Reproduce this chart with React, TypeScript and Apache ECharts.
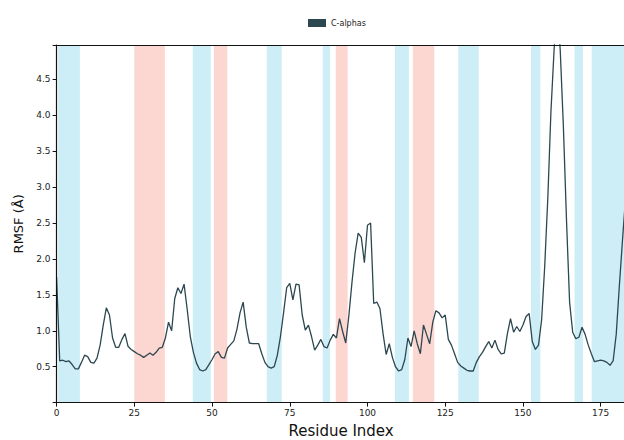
import { useEffect, useRef } from "react";
import * as echarts from "echarts";

// RMSF per residue (index = residue number, starting at 0)
const rmsf = [
  1.75, 0.58, 0.59, 0.57, 0.58, 0.53, 0.47, 0.47, 0.56, 0.66,
  0.64, 0.56, 0.55, 0.62, 0.8, 1.08, 1.32, 1.22, 0.9, 0.77,
  0.77, 0.88, 0.96, 0.78, 0.74, 0.71, 0.68, 0.66, 0.63, 0.66,
  0.69, 0.66, 0.7, 0.76, 0.77, 0.9, 1.12, 1.0, 1.45, 1.6,
  1.52, 1.65, 1.3, 0.92, 0.7, 0.55, 0.46, 0.44, 0.46, 0.53,
  0.6, 0.68, 0.71, 0.63, 0.62, 0.76, 0.81, 0.86, 1.02, 1.25,
  1.4, 1.05, 0.83, 0.82, 0.82, 0.82, 0.68, 0.56, 0.5, 0.48,
  0.5, 0.66, 0.92, 1.25, 1.6, 1.66, 1.43, 1.65, 1.64, 1.22,
  1.01, 1.08, 0.92, 0.73, 0.8, 0.88, 0.78, 0.76, 0.87, 0.95,
  0.9, 1.17, 0.99, 0.83, 1.21, 1.67, 2.08, 2.36, 2.3, 1.95,
  2.47, 2.5, 1.38, 1.4, 1.31, 0.96, 0.67, 0.82, 0.63, 0.5,
  0.44, 0.46, 0.6, 0.9, 0.78, 1.0, 0.82, 0.68, 1.08, 0.95,
  0.82, 1.12, 1.28, 1.25, 1.18, 1.22, 0.88, 0.8, 0.68, 0.56,
  0.51, 0.48, 0.45, 0.44, 0.44, 0.56, 0.64, 0.7, 0.78, 0.85,
  0.76, 0.87, 0.74, 0.68, 0.69, 0.96, 1.17, 0.98, 1.06, 0.99,
  1.08, 1.2, 1.24, 0.85, 0.74, 0.8, 1.15, 1.9, 2.85, 4.05,
  4.9, 5.6, 4.9, 3.85, 2.55, 1.4, 0.98, 0.89, 0.91, 1.05,
  0.95, 0.8, 0.68, 0.57, 0.58, 0.59, 0.58, 0.56, 0.52, 0.58,
  0.95, 1.62, 2.25, 2.85,
];

// shaded residue ranges
const blueBands = [
  [0.5, 7.5], [43.8, 49.6], [67.6, 72.4], [85.6, 87.9], [108.8, 113.3],
  [129.2, 135.8], [152.6, 155.6], [166.6, 169.3], [172.1, 190],
];
const pinkBands = [
  [25.0, 34.8], [50.6, 54.9], [89.8, 93.6], [114.6, 121.5],
];

const seriesName = "C-alphas";
const xTitle = "Residue Index";
const yTitle = "RMSF (Å)";
const xMin = 0;
const xMax = 183;
const xInterval = 25;
const yMin = 0;
const yMax = 4.98;
const yInterval = 0.5;

const FONT = "DejaVu Sans";
const BLUE = "#cdeef6";
const PINK = "#fcd6d0";
const LINE = "#2c4750";

export default function App() {
  const ref = useRef<HTMLDivElement>(null);

  useEffect(() => {
    if (!ref.current) return;
    const chart = echarts.init(ref.current, undefined, { renderer: "svg" });

    const areas = [
      ...blueBands.map(([a, b]) => [
        { xAxis: a, itemStyle: { color: BLUE } },
        { xAxis: b },
      ]),
      ...pinkBands.map(([a, b]) => [
        { xAxis: a, itemStyle: { color: PINK } },
        { xAxis: b },
      ]),
    ];

    const pxPerUnit = 3.109;
    const option: any = {
      animation: false,
      backgroundColor: "#ffffff",
      textStyle: { fontFamily: FONT },
      legend: {
        data: [seriesName],
        left: 303,
        top: 14,
        icon: "rect",
        itemWidth: 18,
        itemHeight: 8,
        textStyle: { fontSize: 8, color: "#222", fontFamily: FONT },
      },
      grid: {
        left: 56.6,
        top: 45,
        width: (xMax - xMin) * pxPerUnit,
        height: 357.6,
        containLabel: false,
        outerBoundsMode: "none",
      },
      xAxis: [
        {
          type: "value",
          min: xMin,
          max: xMax,
          interval: xInterval,
          name: xTitle,
          nameLocation: "middle",
          nameGap: 21,
          nameTextStyle: { fontSize: 15, color: "#111", fontFamily: FONT },
          axisLine: { show: true, lineStyle: { color: "#111", width: 1.2 } },
          axisTick: { show: true, length: 4, lineStyle: { color: "#111" } },
          axisLabel: {
            fontSize: 9,
            color: "#222",
            margin: 6,
            formatter: (v: number) => (v % xInterval === 0 ? String(v) : ""),
          },
          splitLine: { show: false },
          z: 10,
        },
        {
          type: "value",
          position: "top",
          min: xMin,
          max: xMax,
          axisLine: { show: true, lineStyle: { color: "#111", width: 1.2 } },
          axisTick: { show: false },
          axisLabel: { show: false },
          splitLine: { show: false },
          z: 10,
        },
      ],
      yAxis: {
        type: "value",
        min: yMin,
        max: yMax,
        interval: yInterval,
        name: yTitle,
        nameLocation: "middle",
        nameRotate: 90,
        nameGap: 27,
        nameTextStyle: { fontSize: 13, color: "#111", fontFamily: FONT },
        axisLine: { show: true, lineStyle: { color: "#111", width: 1.2 } },
        axisTick: { show: true, length: 4, lineStyle: { color: "#111" } },
        axisLabel: {
          fontSize: 9,
          color: "#222",
          margin: 6,
          formatter: (v: number) => {
            const k = Math.round(v / yInterval);
            if (v === 0 || Math.abs(k * yInterval - v) > 1e-6) return "";
            return v.toFixed(1);
          },
        },
        splitLine: { show: false },
        z: 10,
      },
      series: [
        {
          name: seriesName,
          type: "line",
          data: rmsf.map((v, i) => [i, v]),
          showSymbol: false,
          symbol: "none",
          clip: true,
          itemStyle: { color: LINE },
          lineStyle: { color: LINE, width: 1.3 },
          markArea: {
            silent: true,
            label: { show: false },
            data: areas,
          },
        },
      ],
    };

    chart.setOption(option);
    return () => chart.dispose();
  }, []);

  return (
    <div
      ref={ref}
      style={{
        position: "fixed",
        left: 0,
        top: 0,
        width: 624,
        height: 440,
        background: "#fff",
      }}
    />
  );
}
